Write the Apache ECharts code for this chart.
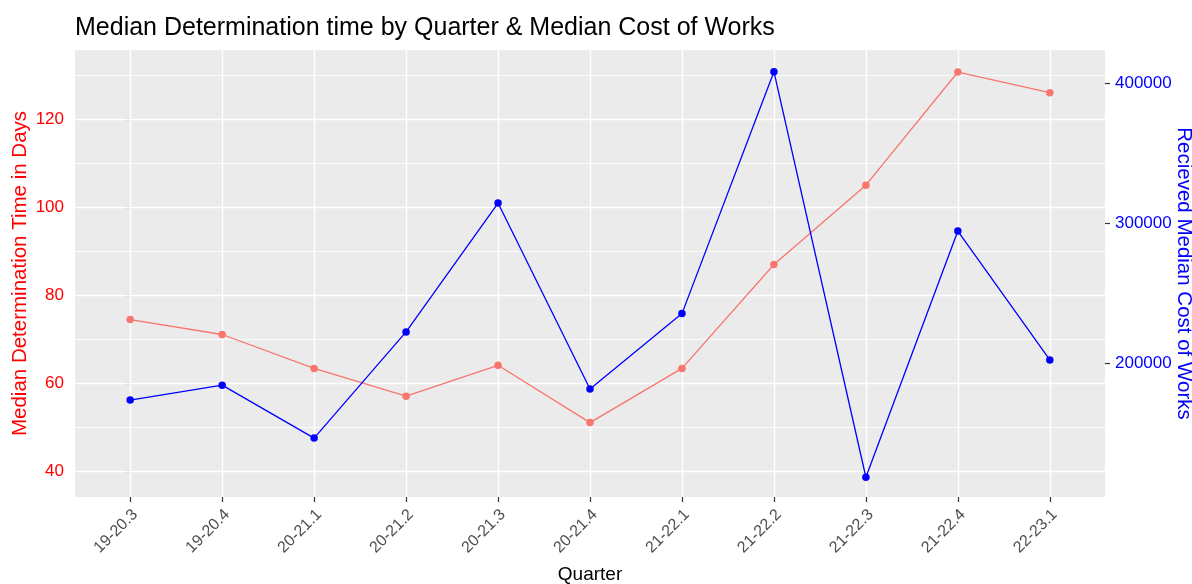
<!DOCTYPE html>
<html>
<head>
<meta charset="utf-8">
<script src="https://cdn.jsdelivr.net/npm/echarts@6/dist/echarts.min.js"></script>
<style>
  html, body { margin: 0; padding: 0; background: #ffffff; }
  #chart { width: 1192px; height: 584px; }
</style>
</head>
<body>
<div id="chart"></div>
<script>
const quarters = ['19-20.3','19-20.4','20-21.1','20-21.2','20-21.3','20-21.4','21-22.1','21-22.2','21-22.3','21-22.4','22-23.1'];
const medianDays = [74.5, 71.1, 63.4, 57.1, 64.1, 51.1, 63.4, 87.0, 105.0, 130.7, 126.0];
const medianCost = [173700, 184400, 146600, 222400, 314500, 181700, 235500, 408300, 118600, 294500, 202400];
const leftTicks = [40, 60, 80, 100, 120];
const leftMinor = [50, 70, 90, 110, 130];
const rightTicks = [200000, 300000, 400000];

const idx = quarters.map((q, i) => i);
const fontFam = '"Liberation Sans", Arial, sans-serif';

const chart = echarts.init(document.getElementById('chart'), null, { renderer: 'canvas' });

const gridLineData = []
  .concat(leftMinor.map(v => ({ yAxis: v, lineStyle: { width: 0.8 } })))
  .concat(leftTicks.map(v => ({ yAxis: v, lineStyle: { width: 1.4 } })))
  .concat(idx.map(i => ({ xAxis: i, lineStyle: { width: 1.4 } })));

chart.setOption({
  animation: false,
  backgroundColor: '#ffffff',
  textStyle: { fontFamily: fontFam },
  title: {
    text: 'Median Determination time by Quarter & Median Cost of Works',
    left: 70, top: 11,
    textStyle: { fontSize: 25, fontWeight: 'normal', color: '#000000', fontFamily: fontFam }
  },
  grid: {
    left: 75, right: 87, top: 50, bottom: 87,
    outerBoundsMode: 'none',
    containLabel: false,
    show: true, backgroundColor: '#EBEBEB', borderWidth: 0
  },
  xAxis: {
    type: 'value',
    min: -0.6, max: 10.6,
    name: 'Quarter',
    nameLocation: 'middle',
    nameMoveOverlap: false,
    nameGap: 68,
    nameTextStyle: { fontSize: 19, color: '#000000', fontFamily: fontFam },
    axisLine: { show: false },
    axisTick: { show: true, length: 5, lineStyle: { color: '#333333', width: 1.2 }, customValues: idx },
    axisLabel: {
      customValues: idx,
      rotate: 45,
      margin: 20,
      padding: [0, -7, 0, 0],
      fontSize: 16,
      color: '#4D4D4D',
      fontFamily: fontFam,
      formatter: v => quarters[Math.round(v)]
    },
    splitLine: { show: false }
  },
  yAxis: [
    {
      type: 'value',
      min: 34.2, max: 135.7,
      position: 'left',
      name: 'Median Determination Time in Days',
      nameLocation: 'middle',
      nameMoveOverlap: false,
      nameGap: 44,
      nameTextStyle: { fontSize: 20.5, color: '#ff0000', fontFamily: fontFam },
      axisLine: { show: false },
      axisTick: { show: true, length: 5, lineStyle: { color: '#333333', width: 1.2 }, customValues: leftTicks },
      axisLabel: { customValues: leftTicks, margin: 11, fontSize: 17, color: '#ff0000', fontFamily: fontFam },
      splitLine: { show: false }
    },
    {
      type: 'value',
      min: 104500, max: 423800,
      position: 'right',
      name: 'Recieved Median Cost of Works',
      nameLocation: 'middle',
      nameMoveOverlap: false,
      nameRotate: -90,
      nameGap: 68,
      nameTextStyle: { fontSize: 20.5, color: '#0000ff', fontFamily: fontFam },
      axisLine: { show: false },
      axisTick: { show: true, length: 5, lineStyle: { color: '#333333', width: 1.2 }, customValues: rightTicks },
      axisLabel: {
        customValues: rightTicks, margin: 10, fontSize: 17, color: '#0000ff', fontFamily: fontFam,
        formatter: v => String(Math.round(v))
      },
      splitLine: { show: false }
    }
  ],
  series: [
    {
      type: 'line',
      name: 'grid',
      xAxisIndex: 0, yAxisIndex: 0,
      data: [],
      silent: true,
      z: 1,
      showSymbol: false,
      markLine: {
        silent: true,
        z: 1,
        symbol: 'none',
        label: { show: false },
        emphasis: { disabled: true },
        lineStyle: { color: '#ffffff', type: 'solid' },
        data: gridLineData
      }
    },
    {
      type: 'line',
      name: 'Median Determination Time',
      yAxisIndex: 0,
      z: 3,
      data: idx.map(i => [i, medianDays[i]]),
      symbol: 'circle',
      symbolSize: 7.5,
      showSymbol: true,
      lineStyle: { color: '#F8766D', width: 1.3 },
      itemStyle: { color: '#F8766D', borderWidth: 0 },
      emphasis: { disabled: true }
    },
    {
      type: 'line',
      name: 'Median Cost of Works',
      yAxisIndex: 1,
      z: 4,
      data: idx.map(i => [i, medianCost[i]]),
      symbol: 'circle',
      symbolSize: 7.5,
      showSymbol: true,
      lineStyle: { color: '#0000FF', width: 1.3 },
      itemStyle: { color: '#0000FF', borderWidth: 0 },
      emphasis: { disabled: true }
    }
  ]
});
</script>
</body>
</html>
